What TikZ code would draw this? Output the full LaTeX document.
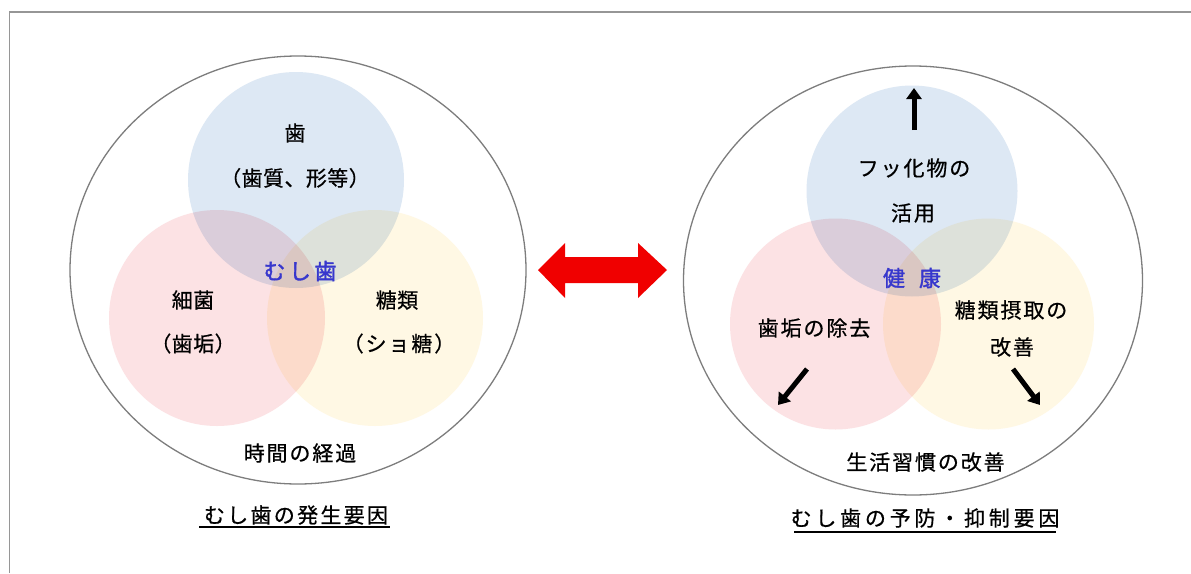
\documentclass[tikz,border=0pt]{standalone}
\usepackage{fontspec}
\usetikzlibrary{arrows.meta}
\newfontfamily\jpn[LetterSpace=2,FakeBold=0.6]{Noto Sans CJK JP}
\newfontfamily\jp[LetterSpace=9,FakeBold=0.6]{Noto Sans CJK JP}
\newfontfamily\jptl[LetterSpace=11,FakeBold=0.6]{Noto Sans CJK JP}
\newfontfamily\jptr[LetterSpace=18,FakeBold=0.6]{Noto Sans CJK JP}
\newfontfamily\jpblue[LetterSpace=16,FakeBold=1.6]{Noto Sans CJK JP}
\definecolor{cblue}{RGB}{221,232,244}
\definecolor{cred}{RGB}{252,226,228}
\definecolor{cyel}{RGB}{255,248,228}
\definecolor{cframe}{RGB}{150,150,150}
\definecolor{couter}{RGB}{125,125,125}
\definecolor{cword}{RGB}{55,55,205}
\definecolor{carrow}{RGB}{240,0,0}
\tikzset{
  txtn/.style={inner sep=0pt, font=\jpn\fontsize{21}{24}\selectfont, text=black},
  txt/.style={inner sep=0pt, font=\jp\fontsize{21}{24}\selectfont, text=black},
  ttll/.style={inner sep=0pt, font=\jptl\fontsize{21}{24}\selectfont, text=black},
  ttlr/.style={inner sep=0pt, font=\jptr\fontsize{21}{24}\selectfont, text=black},
  core/.style={inner sep=0pt, font=\jpblue\fontsize{22}{24}\selectfont, text=cword},
  outerc/.style={draw=couter, line width=1.3pt},
  blkarrow/.style={line width=5pt, -{Triangle[length=11pt,width=15pt]}},
  uline/.style={line width=1.6pt, black}
}
\begin{document}
\begin{tikzpicture}[x=1pt,y=-1pt]
\useasboundingbox (0,0) rectangle (1191,573);
\fill[white] (0,0) rectangle (1191,573);
\draw[cframe, line width=1.6pt] (9.5,573) -- (9.5,12) -- (1191,12);

% left Venn
\begin{scope}[blend mode=multiply]
\fill[cblue] (296,180) circle[radius=108];
\fill[cred] (217,318) circle[radius=108];
\fill[cyel] (375,318) circle[radius=108];
\end{scope}
\draw[outerc] (298,270) ellipse[x radius=228, y radius=214];

% right Venn
\begin{scope}[blend mode=multiply]
\fill[cblue] (912,191) circle[radius=105.5];
\fill[cred] (835.5,324) circle[radius=105.5];
\fill[cyel] (988.5,324) circle[radius=105.5];
\end{scope}
\draw[outerc] (913,280.5) ellipse[x radius=229.5, y radius=214.5];

% left texts
\node[txtn] (ltooth) at (295,133) {歯};
\node[txtn] (ltoothsub) at (295,178) {（歯質、形等）};
\node[core] (lcore) at (300,271) {むし歯};
\node[txtn] (lbact) at (193,300) {細菌};
\node[txtn] (lbactsub) at (193,343.5) {（歯垢）};
\node[txtn] (lsugar) at (397,300) {糖類};
\node[txt] (lsugarsub) at (399,343.5) {（ショ糖）};
\node[txt] (ltime) at (300,453) {時間の経過};
\node[ttll] (ltitle) at (296,515) {むし歯の発生要因};
\draw[uline] (199,527) -- (390,527);

% right texts
\node[txt] (rfl1) at (914,168) {フッ化物の};
\node[txt] (rfl2) at (913,213) {活用};
\node[core] (rcore) at (912,278) {健\hspace{14pt}康};
\node[txt] (rplaque) at (814,328) {歯垢の除去};
\node[txt] (rsug1) at (1011,310) {糖類摂取の};
\node[txt] (rsug2) at (1012,347) {改善};
\node[txt] (rlife) at (925.5,462) {生活習慣の改善};
\node[ttlr] (rtitle) at (925,518) {むし歯の予防・抑制要因};
\draw[uline] (794,532) -- (1056,532);

% black arrows
\coordinate (ua1) at (914,130);
\coordinate (ua2) at (914,88);
\coordinate (la1) at (807,369);
\coordinate (la2) at (778,405);
\coordinate (ra1) at (1013,369);
\coordinate (ra2) at (1040,405);
\draw[blkarrow] (ua1) -- (ua2);
\draw[blkarrow] (la1) -- (la2);
\draw[blkarrow] (ra1) -- (ra2);

% red double arrow
\fill[carrow] (538,270) -- (565,243) -- (565,257) -- (638,257) -- (638,243) -- (667,270) -- (638,298) -- (638,283) -- (565,283) -- (565,298) -- cycle;
\end{tikzpicture}
\end{document}
